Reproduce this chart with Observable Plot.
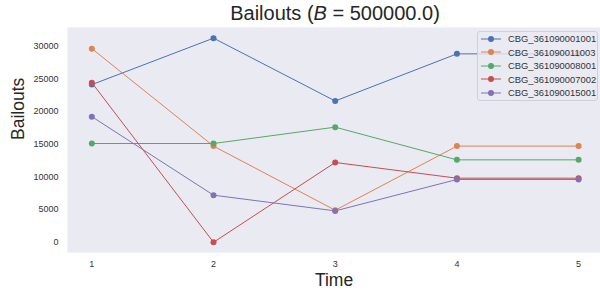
<!DOCTYPE html>
<html>
<head>
<meta charset="utf-8">
<script src="https://cdn.jsdelivr.net/npm/d3@7"></script>
<script src="https://cdn.jsdelivr.net/npm/@observablehq/plot@0.6"></script>
<style>
  html, body { margin: 0; padding: 0; background: white; }
  body { width: 600px; height: 297px; position: relative; overflow: hidden;
         font-family: "Liberation Sans", Arial, Helvetica, sans-serif; }
  #title { height: 27px; width: 600px; position: relative; }
  #title span { position: absolute; left: 335px; top: 1px; transform: translateX(-50%);
                font-size: 20px; color: #262626; white-space: nowrap; line-height: 24px; }
  #legend { position: absolute; left: 477px; top: 31px; width: 121px; height: 70px;
            box-sizing: border-box; border: 1px solid #cfcfd6; border-radius: 3px;
            background: rgba(234,234,242,0.8); }
  .row { position: absolute; left: 2px; height: 12px; display: flex; align-items: center;
         font-size: 9.4px; color: #333; white-space: nowrap; }
  .row svg { margin-right: 7px; }
</style>
</head>
<body>
<div id="title"><span>Bailouts (<i>B</i> = 500000.0)</span></div>
<div id="chart"></div>
<div id="legend"></div>
<script>
const times = [1, 2, 3, 4, 5];
const seriesNames = ["CBG_361090001001", "CBG_361090011003", "CBG_361090008001", "CBG_361090007002", "CBG_361090015001"];
const seriesColors = ["#4C72B0", "#DD8452", "#55A868", "#C44E52", "#8172B3"];
const bailouts1001 = [24100, 31200, 21600, 28800, 28800];
const bailouts11003 = [29600, 14700, 4900, 14700, 14700];
const bailouts8001 = [15100, 15100, 17600, 12600, 12600];
const bailouts7002 = [24400, 0, 12200, 9800, 9800];
const bailouts15001 = [19200, 7200, 4800, 9600, 9600];
const yTicks = [0, 5000, 10000, 15000, 20000, 25000, 30000];
const xTicks = [1, 2, 3, 4, 5];

const seriesValues = [bailouts1001, bailouts11003, bailouts8001, bailouts7002, bailouts15001];
const data = seriesNames.flatMap((name, i) =>
  times.map((t, j) => ({series: name, time: t, value: seriesValues[i][j]})));

const seriesMarks = seriesNames.flatMap(name => {
  const d = data.filter(r => r.series === name);
  return [
    Plot.line(d, {x: "time", y: "value", stroke: "series", strokeWidth: 1}),
    Plot.dot(d, {x: "time", y: "value", fill: "series", r: 3})
  ];
});

const chart = Plot.plot({
  width: 600,
  height: 270,
  marginLeft: 67,
  marginRight: 0,
  marginTop: 0,
  marginBottom: 45,
  style: {background: "white", fontFamily: "'Liberation Sans', Arial, sans-serif", fontSize: "9px", color: "#333", overflow: "visible"},
  x: {domain: [0.8, 5.18], ticks: xTicks, tickSize: 0, tickPadding: 8, label: null, tickFormat: d => String(d)},
  y: {domain: [-1560, 32830], ticks: yTicks, tickSize: 0, tickPadding: 9, label: null, tickFormat: d => String(d)},
  color: {domain: seriesNames, range: seriesColors},
  marks: [
    Plot.frame({fill: "#EAEAF2", stroke: null}),
    ...seriesMarks,
    Plot.text(["Time"], {frameAnchor: "bottom", dy: 33, fontSize: 17.5, fill: "#262626", text: d => d}),
    Plot.text(["Bailouts"], {frameAnchor: "left", dx: -49, rotate: -90, fontSize: 17.5, fill: "#262626", text: d => d})
  ]
});
document.getElementById("chart").appendChild(chart);

// Legend
const legend = document.getElementById("legend");
seriesNames.forEach((name, i) => {
  const row = document.createElement("div");
  row.className = "row";
  row.style.top = (0.5 + i * 13.6) + "px";
  row.innerHTML = `<svg width="21" height="12"><line x1="1" x2="21" y1="6" y2="6" stroke="${seriesColors[i]}" stroke-width="1"/><circle cx="11" cy="6" r="3" fill="${seriesColors[i]}"/></svg><span>${name}</span>`;
  legend.appendChild(row);
});
</script>
</body>
</html>
